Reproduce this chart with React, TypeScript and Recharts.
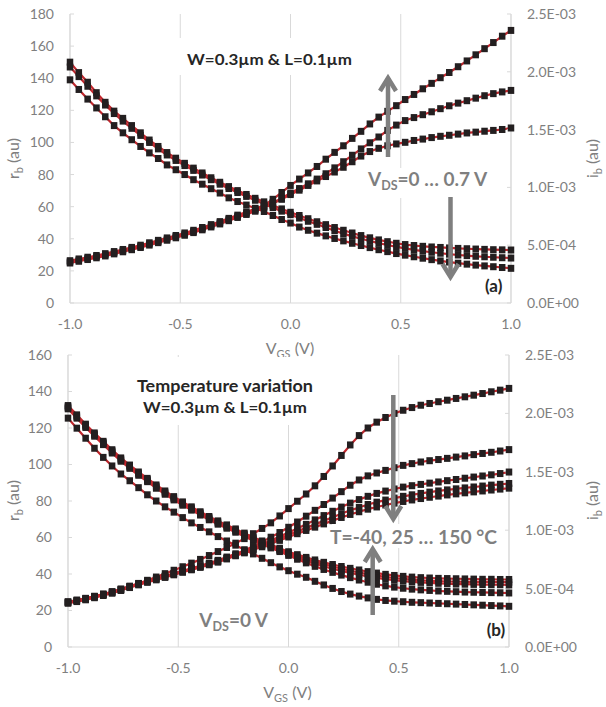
import React from "react";
import { ComposedChart, Line, XAxis, YAxis, CartesianGrid } from "recharts";

// V_GS sweep (V)
const vgs = [-1, -0.96, -0.92, -0.88, -0.84, -0.8, -0.76, -0.72, -0.68, -0.64, -0.6, -0.56, -0.52, -0.48, -0.44, -0.4, -0.36, -0.32, -0.28, -0.24, -0.2, -0.16, -0.12, -0.08, -0.04, 0, 0.04, 0.08, 0.12, 0.16, 0.2, 0.24, 0.28, 0.32, 0.36, 0.4, 0.44, 0.48, 0.52, 0.56, 0.6, 0.64, 0.68, 0.72, 0.76, 0.8, 0.84, 0.88, 0.92, 0.96, 1];

const xTicks = [-1, -0.5, 0, 0.5, 1];
const ibTicks = [0, 0.5, 1, 1.5, 2, 2.5]; // x1e-3
const rbTicksA = [0, 20, 40, 60, 80, 100, 120, 140, 160, 180];
const rbTicksB = [0, 20, 40, 60, 80, 100, 120, 140, 160];

// (a) VDS = 0 ... 0.7 V : r_b (au)
const rbA1 = [150, 143.5, 137.5, 131, 125, 119.5, 115, 110.5, 106, 101.5, 97.5, 93.7, 90.2, 87, 84, 81, 78, 75.2, 72.5, 70, 67.6, 65.2, 63, 60.8, 58.6, 56.5, 54.5, 52.5, 50.6, 48.8, 47, 45.3, 43.6, 42, 40.6, 39.3, 38.2, 37.2, 36.4, 35.8, 35.3, 34.9, 34.6, 34.3, 34, 33.8, 33.6, 33.4, 33.2, 33.1, 33];
const rbA2 = [147, 141, 135, 129, 123.3, 118, 113.3, 108.8, 104.4, 100, 96, 92.2, 88.8, 85.6, 82.6, 79.7, 76.8, 74, 71.3, 68.8, 66.4, 64, 61.7, 59.4, 57.2, 55, 52.9, 50.9, 49, 47, 45, 43.2, 41.5, 40, 38.6, 37.3, 36.1, 35, 34, 33.1, 32.3, 31.6, 31, 30.4, 29.9, 29.5, 29.1, 28.8, 28.5, 28.2, 28];
const rbA3 = [139, 133, 127, 121.5, 116, 110.5, 106, 101.7, 97.5, 93.5, 90, 86, 83, 80, 76.8, 74, 71.2, 68.5, 65.5, 63.2, 61, 59, 57, 54.5, 52, 49.8, 47.3, 45.3, 43.5, 41.8, 40.2, 38.7, 37.2, 35.8, 34.5, 33.2, 32, 30.8, 29.8, 28.8, 27.9, 27, 26.2, 25.5, 24.8, 24.2, 23.6, 23.1, 22.6, 22.1, 21.6];

// (a) i_b (x1e-3 au)
const ibA1 = [0.346, 0.361, 0.376, 0.391, 0.407, 0.425, 0.443, 0.461, 0.48, 0.501, 0.522, 0.543, 0.564, 0.586, 0.609, 0.633, 0.658, 0.684, 0.712, 0.74, 0.766, 0.794, 0.828, 0.861, 0.897, 0.938, 0.976, 1.017, 1.056, 1.094, 1.133, 1.174, 1.222, 1.271, 1.31, 1.338, 1.36, 1.376, 1.39, 1.406, 1.418, 1.431, 1.442, 1.451, 1.461, 1.471, 1.478, 1.486, 1.493, 1.501, 1.514];
const ibA2 = [0.356, 0.371, 0.386, 0.401, 0.417, 0.435, 0.453, 0.471, 0.49, 0.511, 0.532, 0.553, 0.574, 0.596, 0.619, 0.643, 0.668, 0.694, 0.722, 0.75, 0.776, 0.804, 0.836, 0.868, 0.907, 0.951, 0.99, 1.031, 1.072, 1.118, 1.169, 1.222, 1.278, 1.333, 1.386, 1.436, 1.493, 1.539, 1.578, 1.604, 1.629, 1.654, 1.681, 1.706, 1.729, 1.75, 1.772, 1.793, 1.811, 1.826, 1.839];
const ibA3 = [0.366, 0.381, 0.396, 0.411, 0.427, 0.445, 0.463, 0.481, 0.5, 0.521, 0.542, 0.563, 0.584, 0.606, 0.629, 0.653, 0.678, 0.704, 0.732, 0.76, 0.786, 0.814, 0.847, 0.897, 0.956, 1.017, 1.072, 1.125, 1.181, 1.244, 1.303, 1.36, 1.424, 1.485, 1.549, 1.608, 1.658, 1.707, 1.76, 1.804, 1.853, 1.9, 1.949, 1.994, 2.044, 2.094, 2.147, 2.2, 2.253, 2.308, 2.358];

// (b) temperature sweep, VDS = 0 V : r_b (au)
const rbB1 = [132.3, 127.2, 122.1, 117.3, 112.7, 108.1, 103.6, 99.7, 95.9, 92.4, 88.8, 85.5, 82.4, 79.5, 76.8, 74.1, 71.5, 69.1, 66.9, 64.7, 62.4, 60.2, 58.1, 56.1, 54.1, 52.2, 50.6, 49.1, 47.7, 46.4, 45.2, 44.1, 43.1, 42.2, 41.3, 40.5, 39.8, 39.2, 38.7, 38.3, 38, 37.8, 37.6, 37.5, 37.4, 37.3, 37.2, 37.1, 37.1, 37, 37];
const rbB2 = [131.7, 126.6, 121.5, 116.7, 112.1, 107.5, 103, 99.1, 95.3, 91.8, 88.2, 84.9, 81.8, 78.9, 76.2, 73.5, 70.9, 68.5, 66.3, 64.1, 61.8, 59.6, 57.5, 55.5, 53.5, 51.6, 49.9, 48.3, 46.8, 45.4, 44.1, 42.9, 41.8, 40.8, 39.9, 39.1, 38.4, 37.8, 37.3, 36.9, 36.5, 36.3, 36.1, 35.9, 35.8, 35.7, 35.7, 35.6, 35.6, 35.5, 35.5];
const rbB3 = [131.1, 126, 120.9, 116.1, 111.5, 106.9, 102.4, 98.5, 94.7, 91.2, 87.6, 84.3, 81.2, 78.3, 75.6, 72.9, 70.3, 67.9, 65.7, 63.5, 61.2, 59, 56.9, 54.9, 52.9, 50.9, 49, 47.3, 45.7, 44.2, 42.9, 41.7, 40.6, 39.6, 38.7, 37.9, 37.2, 36.6, 36.1, 35.7, 35.4, 35.1, 34.9, 34.7, 34.5, 34.4, 34.3, 34.2, 34.1, 34.1, 34];
const rbB4 = [130.5, 125.4, 120.3, 115.5, 110.9, 106.3, 101.8, 97.9, 94.1, 90.6, 87, 83.7, 80.6, 77.7, 75, 72.3, 69.7, 67.3, 65.1, 62.9, 60.6, 58.4, 56.3, 54.3, 52.3, 50.2, 48.1, 46.1, 44.2, 42.5, 40.9, 39.4, 38, 36.7, 35.5, 34.4, 33.5, 32.8, 32.2, 31.7, 31.3, 31, 30.7, 30.5, 30.3, 30.1, 30, 29.9, 29.8, 29.7, 29.6];
const rbB5 = [125.4, 119.9, 114.4, 108.9, 103.9, 99.2, 94.8, 91.1, 87.3, 83.4, 80, 76.8, 73.9, 70.9, 68, 65.5, 63.1, 60.5, 58.1, 55.8, 53.3, 51, 48.6, 46.2, 43.9, 41.8, 39.9, 38.2, 36, 34, 32.1, 30.4, 29, 27.9, 26.9, 26.1, 25.5, 25.1, 24.8, 24.5, 24.3, 24.1, 23.9, 23.7, 23.5, 23.3, 23.1, 22.9, 22.7, 22.5, 22.3];

// (b) i_b (x1e-3 au)
const ibB1 = [0.385, 0.4, 0.416, 0.433, 0.452, 0.472, 0.494, 0.518, 0.544, 0.571, 0.599, 0.628, 0.657, 0.687, 0.718, 0.75, 0.783, 0.817, 0.852, 0.889, 0.928, 0.97, 1.015, 1.063, 1.122, 1.185, 1.248, 1.31, 1.38, 1.46, 1.55, 1.64, 1.73, 1.81, 1.875, 1.925, 1.965, 2, 2.027, 2.05, 2.07, 2.085, 2.1, 2.113, 2.128, 2.142, 2.156, 2.17, 2.185, 2.199, 2.214];
const ibB2 = [0.387, 0.401, 0.416, 0.434, 0.453, 0.473, 0.496, 0.521, 0.544, 0.566, 0.587, 0.608, 0.63, 0.652, 0.673, 0.695, 0.718, 0.742, 0.77, 0.798, 0.826, 0.862, 0.9, 0.94, 0.98, 1.025, 1.07, 1.12, 1.17, 1.22, 1.275, 1.33, 1.385, 1.43, 1.465, 1.49, 1.512, 1.535, 1.555, 1.57, 1.584, 1.595, 1.605, 1.615, 1.626, 1.636, 1.647, 1.657, 1.667, 1.678, 1.69];
const ibB3 = [0.383, 0.397, 0.412, 0.43, 0.449, 0.469, 0.492, 0.517, 0.54, 0.562, 0.583, 0.604, 0.626, 0.648, 0.669, 0.69, 0.712, 0.735, 0.762, 0.789, 0.816, 0.848, 0.88, 0.912, 0.945, 0.98, 1.015, 1.05, 1.088, 1.125, 1.162, 1.198, 1.232, 1.262, 1.29, 1.315, 1.335, 1.353, 1.369, 1.381, 1.392, 1.403, 1.413, 1.424, 1.434, 1.445, 1.455, 1.464, 1.474, 1.485, 1.498];
const ibB4 = [0.379, 0.393, 0.408, 0.426, 0.445, 0.465, 0.488, 0.513, 0.536, 0.558, 0.579, 0.6, 0.622, 0.644, 0.665, 0.686, 0.708, 0.731, 0.758, 0.785, 0.81, 0.838, 0.867, 0.897, 0.928, 0.96, 0.99, 1.02, 1.05, 1.08, 1.11, 1.14, 1.17, 1.195, 1.22, 1.24, 1.258, 1.275, 1.29, 1.303, 1.315, 1.326, 1.336, 1.345, 1.354, 1.362, 1.37, 1.378, 1.386, 1.393, 1.4];
const ibB5 = [0.375, 0.389, 0.404, 0.422, 0.441, 0.461, 0.484, 0.509, 0.532, 0.554, 0.575, 0.596, 0.618, 0.64, 0.661, 0.682, 0.704, 0.727, 0.754, 0.781, 0.806, 0.832, 0.858, 0.885, 0.913, 0.942, 0.97, 0.998, 1.026, 1.054, 1.082, 1.109, 1.135, 1.158, 1.18, 1.199, 1.216, 1.232, 1.246, 1.259, 1.271, 1.282, 1.292, 1.302, 1.311, 1.32, 1.328, 1.336, 1.344, 1.352, 1.36];

const rowsA = vgs.map((v, i) => ({ vgs: v, rbA1: rbA1[i], rbA2: rbA2[i], rbA3: rbA3[i], ibA1: ibA1[i], ibA2: ibA2[i], ibA3: ibA3[i] }));
const rowsB = vgs.map((v, i) => ({
  vgs: v,
  rbB1: rbB1[i], rbB2: rbB2[i], rbB3: rbB3[i], rbB4: rbB4[i], rbB5: rbB5[i],
  ibB1: ibB1[i], ibB2: ibB2[i], ibB3: ibB3[i], ibB4: ibB4[i], ibB5: ibB5[i],
}));

const GRAY = "#7f7f7f";
const AXIS = "#d9d9d9";
const RED = "#c1272d";
const FONT = "Lato, 'Open Sans', sans-serif";
const tickStyle = { fill: GRAY, fontSize: 14, fontFamily: FONT };

// Excel style 2.5E-03
const sci = (v: number) => {
  const val = v * 1e-3;
  if (val === 0) return "0.0E+00";
  const e = Math.floor(Math.log10(val) + 1e-9);
  const m = val / Math.pow(10, e);
  return `${m.toFixed(1)}E${e < 0 ? "-" : "+"}${String(Math.abs(e)).padStart(2, "0")}`;
};

const squareDot = (p: any) => {
  if (p.cx == null || p.cy == null) return <g key={`n${p.index}`} />;
  return <rect key={`s${p.index}`} x={p.cx - 3.25} y={p.cy - 3.5} width={6.5} height={7} fill="#231f20" />;
};

type PanelProps = {
  rows: any[];
  rKeys: string[];
  iKeys: string[];
  rMax: number;
  rTicks: number[];
  top: number;
  height: number;
  marginTop: number;
  leftW: number;
  rightW: number;
  xAxisH: number;
};

function Panel({ rows, rKeys, iKeys, rMax, rTicks, top, height, marginTop, leftW, rightW, xAxisH }: PanelProps) {
  return (
    <div style={{ position: "absolute", left: 0, top, width: 606, height }}>
      <ComposedChart width={606} height={height} data={rows} margin={{ top: marginTop, right: 0, bottom: 0, left: 0 }}>
        <CartesianGrid yAxisId="r" horizontal={false} stroke={AXIS} strokeWidth={1} />
        <XAxis
          dataKey="vgs"
          type="number"
          domain={[-1, 1]}
          ticks={xTicks}
          tickFormatter={(v: number) => v.toFixed(1)}
          height={xAxisH}
          tickLine={false}
          tickSize={0}
          tickMargin={16}
          axisLine={{ stroke: AXIS }}
          tick={tickStyle}
        />
        <YAxis
          yAxisId="r"
          orientation="left"
          width={leftW}
          domain={[0, rMax]}
          ticks={rTicks}
          interval={0}
          tickSize={-4}
          tickMargin={20}
          tickLine={{ stroke: AXIS }}
          axisLine={{ stroke: AXIS }}
          tick={tickStyle}
        />
        <YAxis
          yAxisId="i"
          orientation="right"
          width={rightW}
          domain={[0, 2.5]}
          ticks={ibTicks}
          interval={0}
          tickFormatter={sci}
          tickSize={-4}
          tickMargin={20}
          tickLine={{ stroke: AXIS }}
          axisLine={{ stroke: AXIS }}
          tick={tickStyle}
        />
        {rKeys.map((k) => (
          <Line key={`l-${k}`} yAxisId="r" dataKey={k} stroke={RED} strokeWidth={2.2} dot={false} isAnimationActive={false} />
        ))}
        {iKeys.map((k) => (
          <Line key={`l-${k}`} yAxisId="i" dataKey={k} stroke={RED} strokeWidth={2.2} dot={false} isAnimationActive={false} />
        ))}
        {rKeys.map((k) => (
          <Line key={`m-${k}`} yAxisId="r" dataKey={k} stroke="none" dot={squareDot} activeDot={false} isAnimationActive={false} />
        ))}
        {iKeys.map((k) => (
          <Line key={`m-${k}`} yAxisId="i" dataKey={k} stroke="none" dot={squareDot} activeDot={false} isAnimationActive={false} />
        ))}
      </ComposedChart>
    </div>
  );
}

const Arrow = ({ x, from, to }: { x: number; from: number; to: number }) => {
  const dir = to < from ? 1 : -1;
  return (
    <g stroke={GRAY} strokeWidth={4.5} fill="none">
      <line x1={x} y1={from} x2={x} y2={to} />
      <polyline points={`${x - 8},${to + dir * 13} ${x},${to} ${x + 8},${to + dir * 13}`} strokeLinejoin="miter" />
    </g>
  );
};

const AxisTitle = ({ x, y, main, sub, rotate }: { x: number; y: number; main: string; sub: string; rotate?: boolean }) => (
  <text
    transform={rotate ? `translate(${x},${y}) rotate(-90)` : `translate(${x},${y})`}
    textAnchor="middle"
    fontSize={16}
    fill={GRAY}
    fontFamily={FONT}
  >
    {main}
    <tspan dy={4} fontSize={11}>{sub}</tspan>
    <tspan dy={-4}>{main === "V" ? " (V)" : " (au)"}</tspan>
  </text>
);

export default function App() {
  return (
    <div style={{ position: "fixed", left: 0, top: 0, width: 606, height: 707, background: "#fff", overflow: "hidden" }}>
      <Panel rows={rowsA} rKeys={["rbA1", "rbA2", "rbA3"]} iKeys={["ibA1", "ibA2", "ibA3"]} rMax={180} rTicks={rbTicksA}
        top={0} height={345} marginTop={14} leftW={70} rightW={95} xAxisH={42} />
      <Panel rows={rowsB} rKeys={["rbB1", "rbB2", "rbB3", "rbB4", "rbB5"]} iKeys={["ibB1", "ibB2", "ibB3", "ibB4", "ibB5"]} rMax={160} rTicks={rbTicksB}
        top={345} height={362} marginTop={10} leftW={68} rightW={97} xAxisH={60} />
      <svg width={606} height={707} style={{ position: "absolute", left: 0, top: 0, pointerEvents: "none" }} fontFamily={FONT}>
        {/* panel (a) */}
        <rect x={176} y={38} width={190} height={37} fill="#fff" />
        <text x={187} y={64.5} fontSize={16} fontWeight={700} fill="#262626" textLength={165} lengthAdjust="spacingAndGlyphs">
          {"W=0.3µm & L=0.1µm"}
        </text>
        <rect x={362} y={168} width={136} height={30} fill="#fff" />
        <text x={368} y={185.5} fontSize={19} fontWeight={700} fill={GRAY}>
          V<tspan dy={4} fontSize={12.5}>DS</tspan><tspan dy={-4}>=0 … 0.7 V</tspan>
        </text>
        <Arrow x={388} from={157} to={78} />
        <Arrow x={450.5} from={197} to={277} />
        <text x={485} y={292} fontSize={17} fontWeight={700} fill="#262626">(a)</text>
        <AxisTitle x={19} y={158.5} main="r" sub="b" rotate />
        <AxisTitle x={598} y={158.5} main="i" sub="b" rotate />
        <AxisTitle x={290} y={354} main="V" sub="GS" />

        {/* panel (b) */}
        <rect x={130} y={357} width={190} height={68} fill="#fff" />
        <text x={225} y={391.5} textAnchor="middle" fontSize={17} fontWeight={700} fill="#262626" textLength={176} lengthAdjust="spacingAndGlyphs">
          Temperature variation
        </text>
        <text x={225} y={412.5} textAnchor="middle" fontSize={16} fontWeight={700} fill="#262626" textLength={164} lengthAdjust="spacingAndGlyphs">
          {"W=0.3µm & L=0.1µm"}
        </text>
        <rect x={332} y={524} width={170} height={24} fill="#fff" />
        <text x={330} y={543.5} fontSize={19} fontWeight={700} fill={GRAY} textLength={167} lengthAdjust="spacingAndGlyphs">
          T=-40, 25 … 150 °C
        </text>
        <Arrow x={393.3} from={395} to={519} />
        <Arrow x={372.7} from={615} to={549} />
        <text x={199.3} y={626.7} fontSize={19} fontWeight={700} fill={GRAY}>
          V<tspan dy={4} fontSize={12.5}>DS</tspan><tspan dy={-4}>=0 V</tspan>
        </text>
        <text x={486.7} y={636} fontSize={17} fontWeight={700} fill="#262626">(b)</text>
        <AxisTitle x={19} y={500.5} main="r" sub="b" rotate />
        <AxisTitle x={598} y={500.5} main="i" sub="b" rotate />
        <AxisTitle x={287.5} y={698} main="V" sub="GS" />
      </svg>
    </div>
  );
}
